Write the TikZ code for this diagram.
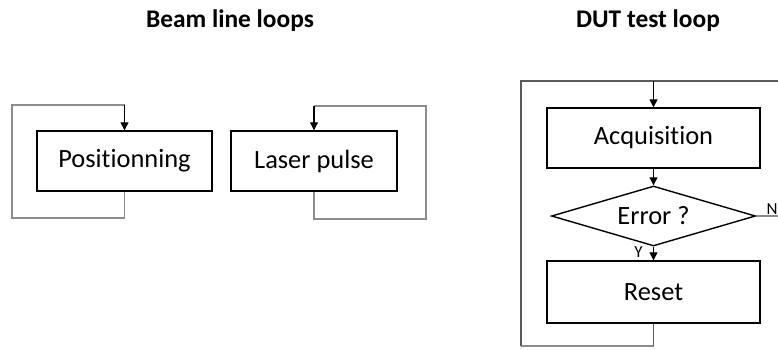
\documentclass[tikz,border=0pt]{standalone}
\usepackage{fontspec}
\setmainfont{Carlito}[RawFeature={-liga;-clig;-calt;-dlig}]
\usetikzlibrary{arrows.meta,shapes.geometric}
\definecolor{loopgray}{RGB}{140,140,140}
\definecolor{loopdark}{RGB}{90,90,90}
\tikzset{
  procbox/.style={draw=black, line width=1.4bp, minimum height=60bp, inner sep=0pt, font=\fontsize{26.5}{31}\selectfont},
  decbox/.style={draw=black, line width=1.4bp, shape=diamond, aspect=3.4, minimum width=204bp, minimum height=60bp, inner sep=0pt, font=\fontsize{26.5}{31}\selectfont},
  loopline/.style={draw=loopgray, line width=1.1bp},
  dutline/.style={draw=loopdark, line width=1.1bp},
  arr/.style={draw=black, line width=1.1bp, -{Triangle[length=8bp,width=8bp]}},
  ttl/.style={font=\bfseries\fontsize{25.5}{30}\selectfont, anchor=base},
  lbl/.style={font=\fontsize{17}{19}\selectfont, anchor=base}
}
\begin{document}
\begin{tikzpicture}[x=1bp, y=-1bp]
\useasboundingbox (0,0) rectangle (778,349);
% titles
\node[ttl] (t1) at (230,27) {Beam line loops};
\node[ttl] (t2) at (648,27) {DUT test loop};
% beam line loops
\node[procbox, minimum width=175bp] (pos) at (124.5,161) {Positionning};
\node[procbox, minimum width=166bp] (las) at (314,161) {Laser pulse};
\coordinate (p1) at (124.5,218);
\coordinate (p2) at (12,218);
\coordinate (p3) at (12,105);
\coordinate (p4) at (124.5,105);
\draw[loopline] (pos.south) -- (p1) -- (p2) -- (p3) -- (p4);
\draw[arr] (p4) -- (pos.north);
\coordinate (l1) at (314,219);
\coordinate (l2) at (426,219);
\coordinate (l3) at (426,106);
\coordinate (l4) at (314,106);
\draw[loopline] (las.south) -- (l1) -- (l2) -- (l3) -- (l4);
\draw[arr] (l4) -- (las.north);
% DUT test loop
\node[procbox, minimum width=213bp] (acq) at (653.5,138) {Acquisition};
\node[decbox] (err) at (653.5,216) {Error ?};
\node[procbox, minimum width=213bp, minimum height=62bp] (rst) at (653.5,292) {Reset};
\coordinate (d1) at (653.5,346);
\coordinate (d2) at (521,346);
\coordinate (d3) at (521,81);
\coordinate (d4) at (653.5,81);
\coordinate (d5) at (778,81);
\coordinate (n1) at (778,216);
\draw[loopline] (d1) -- (d2);
\draw[dutline] (rst.south) -- (d1);
\draw[dutline] (d2) -- (d3) -- (d4) -- (d5);
\draw[arr] (d4) -- (acq.north);
\draw[arr] (acq.south) -- (err.north);
\draw[arr] (err.south) -- (rst.north);
\draw[loopline] (err.east) -- (n1);
\node[lbl] (ny) at (638.5,257) {Y};
\node[lbl] (nn) at (772,214) {N};
\end{tikzpicture}
\end{document}
